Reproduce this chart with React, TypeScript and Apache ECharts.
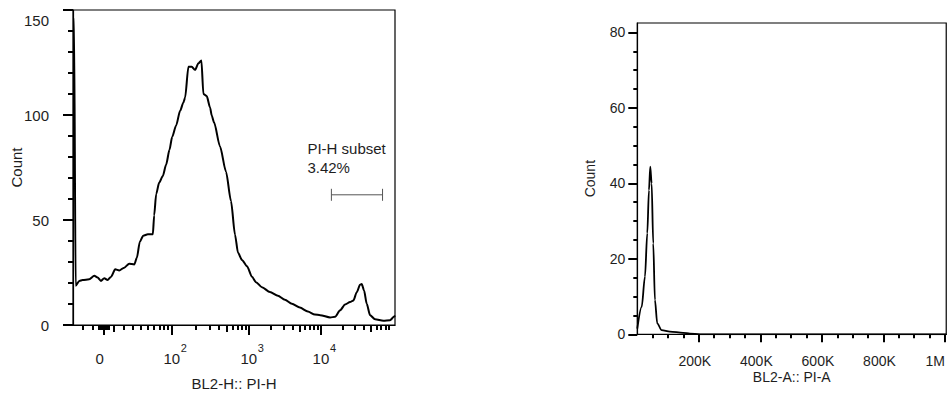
import React, { useEffect, useRef } from "react";
import * as echarts from "echarts";

// ---------------- Left panel: BL2-H :: PI-H (logicle display, channels 0-1000) ----------------
const leftChannels = [15, 18, 23, 34, 44, 64, 79, 89, 99, 109, 119, 129, 142, 154, 169, 184, 199, 207, 216, 226, 240, 255, 259, 265, 274, 285, 295, 305, 313, 325, 337, 347, 352, 362, 372, 382, 392, 401, 407, 417, 427, 432, 439, 457, 475, 490, 502, 511, 523, 538, 553, 565, 583, 607, 631, 652, 673, 697, 721, 742, 758, 788, 803, 818, 833, 848, 858, 868, 878, 883, 890, 898, 908, 923, 948, 968, 980, 983];
const leftCounts = [146, 146, 18.7, 21, 21.4, 21.8, 23.4, 22.6, 21, 22.3, 21.4, 22.9, 26.5, 26, 27.3, 29.2, 28.8, 32, 39.7, 42.5, 43.2, 43.2, 52.2, 62.3, 67.8, 70.9, 76.4, 83.4, 89.5, 95, 102, 106, 108.3, 123, 123, 121.5, 124.6, 126, 110, 109, 103.6, 99.8, 96.5, 85, 73, 59, 43, 34.4, 31, 28, 23, 20.4, 18, 15.7, 13.9, 12, 10.1, 8.3, 6.4, 5, 4.7, 3.6, 3.9, 7, 9.8, 10.9, 11.7, 15.6, 19.2, 19.5, 16.4, 10.1, 4.7, 2.7, 2, 2.3, 3.9, 4.5];

// logicle parameters of the display
const logicleT = 131072;
const logicleW = 0.5;
const logicleM = 4.67;
const logicleA = 0;
const leftXRange = [15, 983]; // display channels shown
const leftYRange = [0, 150];

const leftMajorTickValues = [0, 100, 1000, 10000];
const leftBaseLabels = ["0", "10", "10", "10"];
const leftSupLabels = ["", "2", "3", "4"];
const leftMediumTickValues = [10, 500, 5000, 50000];
const leftMinorTickValues = [
  -20, -10, -5, -4, -3, -2, -1, 1, 2, 3, 4, 5,
  20, 30, 40, 50, 60, 70, 80, 90,
  200, 300, 400, 600, 700, 800, 900,
  2000, 3000, 4000, 6000, 7000, 8000, 9000,
  20000, 30000, 40000, 60000, 70000, 80000, 90000,
];
const leftYMajor = [0, 50, 100, 150];
const leftYMinor = [10, 20, 30, 40, 60, 70, 80, 90, 110, 120, 130, 140];
const leftYLabelsMid = [50, 100];

const gateRange = [14000, 73000];
const gateLevel = 62;
const gateName = "PI-H subset";
const gatePercent = "3.42%";

// ---------------- Right panel: BL2-A :: PI-A (linear) ----------------
const rightValues = [0, 14300, 24900, 32400, 37900, 42100, 46600, 51800, 57300, 64800, 79000, 106000, 149000, 171000, 203000, 1004000];
const rightCounts = [1.5, 7.3, 15.3, 26.8, 38.2, 44.4, 40, 24.1, 9.1, 2.9, 1.1, 0.7, 0.4, 0.2, 0, 0];
const rightXRange = [0, 1004000];
const rightYRange = [0, 82.5];
const rightXMajor = [200000, 400000, 600000, 800000, 1000000];
const rightXMinor = [50000, 100000, 150000, 250000, 300000, 350000, 450000, 500000, 550000, 650000, 700000, 750000, 850000, 900000, 950000];
const rightXLabelValues = [200000, 400000, 600000, 800000];
const rightXLabels = ["200K", "400K", "600K", "800K"];
const rightXLastValue = 1000000;
const rightXLastLabel = "1M";
const rightYMajor = [0, 20, 40, 60, 80];
const rightYMinor = [5, 10, 15, 25, 30, 35, 45, 50, 55, 65, 70, 75];

function makeLogicle(T: number, W: number, M: number, A: number) {
  const w = W / (M + A);
  const x2 = A / (M + A);
  const x1 = x2 + w;
  const x0 = x2 + 2 * w;
  const b = (M + A) * Math.LN10;
  let lo = 1e-9;
  let hi = b;
  for (let i = 0; i < 200; i++) {
    const mid = (lo + hi) / 2;
    const g = 2 * (Math.log(mid) - Math.log(b)) + w * (b + mid);
    if (g > 0) hi = mid;
    else lo = mid;
  }
  const d = (lo + hi) / 2;
  const ca = Math.exp(x0 * (b + d));
  const mfa = Math.exp(b * x1) - ca / Math.exp(d * x1);
  const a = T / (Math.exp(b) - mfa - ca / Math.exp(d));
  const c = ca * a;
  const f = -mfa * a;
  const inverse = (y: number) => {
    const neg = y < x1;
    const s = neg ? 2 * x1 - y : y;
    const v = a * Math.exp(b * s) + f - c * Math.exp(-d * s);
    return neg ? -v : v;
  };
  return (v: number) => {
    let l = -1;
    let h = 2;
    for (let i = 0; i < 100; i++) {
      const m = (l + h) / 2;
      if (inverse(m) < v) l = m;
      else h = m;
    }
    return ((l + h) / 2) * 1000;
  };
}

const FONT = "'Liberation Sans', Arial, Helvetica, sans-serif";
const TXT = "#1e1e1e";
const TICK = { color: "#000", width: 2 };
const AXIS = { color: "#000", width: 1.2 };

function tickAxis(gridIndex: number, range: number[], values: number[], length: number, pos: string) {
  return {
    type: "value",
    gridIndex,
    min: range[0],
    max: range[1],
    position: pos,
    axisLine: { show: false, onZero: false },
    axisLabel: { show: false },
    splitLine: { show: false },
    axisTick: { show: true, customValues: values, length, lineStyle: TICK },
    silent: true,
  };
}

function labelAxis(gridIndex: number, range: number[], values: number[], pos: string, label: any) {
  return {
    type: "value",
    gridIndex,
    min: range[0],
    max: range[1],
    position: pos,
    axisLine: { show: false, onZero: false },
    axisTick: { show: false },
    splitLine: { show: false },
    axisLabel: { show: true, customValues: values, color: TXT, fontFamily: FONT, ...label },
    silent: true,
  };
}

export default function App() {
  const ref = useRef<HTMLDivElement>(null);
  useEffect(() => {
    document.body.style.margin = "0";
    if (!ref.current) return;
    const chart = echarts.init(ref.current, undefined, { renderer: "svg" });
    const toCh = makeLogicle(logicleT, logicleW, logicleM, logicleA);

    const majorCh = leftMajorTickValues.map(toCh);
    const mediumCh = leftMediumTickValues.map(toCh);
    const minorCh = leftMinorTickValues.map(toCh);
    const findIdx = (val: number) => majorCh.findIndex((c) => Math.abs(c - val) < 1e-6);
    const gateCh = gateRange.map(toCh);

    const leftData = leftChannels.map((c, i) => [c, leftCounts[i]]);
    const rightData = rightValues.map((v, i) => [v, rightCounts[i]]);

    const option: any = {
      animation: false,
      backgroundColor: "#fff",
      grid: [
        { left: 73, top: 10, width: 322, height: 321.7, show: true, borderColor: "#000", borderWidth: 1.2, backgroundColor: "transparent" },
        { left: 637.3, top: 23, width: 310, height: 311.3, show: true, borderColor: "#000", borderWidth: 1.2, backgroundColor: "transparent" },
      ],
      xAxis: [
        {
          type: "value", gridIndex: 0, min: leftXRange[0], max: leftXRange[1], position: "bottom",
          axisLine: { show: true, onZero: false, lineStyle: AXIS },
          axisTick: { show: true, customValues: majorCh, length: 10, lineStyle: TICK },
          axisLabel: {
            show: true, customValues: majorCh.slice(1), color: TXT, fontFamily: FONT, fontSize: 15, margin: 26,
            formatter: (v: number) => leftBaseLabels[findIdx(v)] ?? "",
          },
          splitLine: { show: false },
          name: "BL2-H:: PI-H", nameLocation: "middle", nameGap: 51, nameMoveOverlap: false,
          nameTextStyle: { color: TXT, fontFamily: FONT, fontSize: 15 },
        },
        labelAxis(0, leftXRange, [majorCh[0]], "bottom", { fontSize: 15, margin: 26, padding: [0, 8, 0, 0], formatter: () => leftBaseLabels[0] }),
        labelAxis(0, leftXRange, majorCh.slice(1), "bottom", {
          fontSize: 11, margin: 17, padding: [0, 0, 0, 24],
          formatter: (v: number) => leftSupLabels[findIdx(v)] ?? "",
        }),
        tickAxis(0, leftXRange, mediumCh, 7, "bottom"),
        tickAxis(0, leftXRange, minorCh, 5, "bottom"),
        // 5: right panel main x axis
        {
          type: "value", gridIndex: 1, min: rightXRange[0], max: rightXRange[1], position: "bottom",
          axisLine: { show: true, onZero: false, lineStyle: AXIS },
          axisTick: { show: true, customValues: rightXMajor, length: 8, lineStyle: TICK },
          axisLabel: {
            show: true, customValues: rightXLabelValues, color: TXT, fontFamily: FONT, fontSize: 14, margin: 20,
            padding: [0, 8, 0, 0],
            formatter: (v: number) => rightXLabels[rightXLabelValues.indexOf(v)] ?? "",
          },
          splitLine: { show: false },
          name: "BL2-A:: PI-A", nameLocation: "middle", nameGap: 36, nameMoveOverlap: false,
          nameTextStyle: { color: TXT, fontFamily: FONT, fontSize: 14 },
        },
        labelAxis(1, rightXRange, [rightXLastValue], "bottom", { fontSize: 14, margin: 20, align: "right", formatter: () => rightXLastLabel }),
        tickAxis(1, rightXRange, rightXMinor, 4, "bottom"),
      ],
      yAxis: [
        {
          type: "value", gridIndex: 0, min: leftYRange[0], max: leftYRange[1], position: "left",
          axisLine: { show: true, onZero: false, lineStyle: AXIS },
          axisTick: { show: true, customValues: leftYMajor, length: 10, lineStyle: TICK },
          axisLabel: { show: true, customValues: leftYLabelsMid, color: TXT, fontFamily: FONT, fontSize: 15, margin: 24 },
          splitLine: { show: false },
          name: "Count", nameLocation: "middle", nameGap: 49, nameRotate: 90, nameMoveOverlap: false,
          nameTextStyle: { color: TXT, fontFamily: FONT, fontSize: 15 },
        },
        labelAxis(0, leftYRange, [leftYRange[1]], "left", { fontSize: 15, margin: 24, verticalAlign: "top", padding: [3, 0, 0, 0] }),
        labelAxis(0, leftYRange, [leftYRange[0]], "left", { fontSize: 15, margin: 24, verticalAlign: "middle", padding: [0, 0, 11, 0] }),
        tickAxis(0, leftYRange, leftYMinor, 5, "left"),
        // 4: right panel main y axis
        {
          type: "value", gridIndex: 1, min: rightYRange[0], max: rightYRange[1], position: "left",
          axisLine: { show: true, onZero: false, lineStyle: AXIS },
          axisTick: { show: true, customValues: rightYMajor, length: 9, lineStyle: TICK },
          axisLabel: { show: true, customValues: rightYMajor, color: TXT, fontFamily: FONT, fontSize: 14, margin: 12 },
          splitLine: { show: false },
          name: "Count", nameLocation: "middle", nameGap: 40, nameRotate: 90, nameMoveOverlap: false,
          nameTextStyle: { color: TXT, fontFamily: FONT, fontSize: 14 },
        },
        tickAxis(1, rightYRange, rightYMinor, 4, "left"),
      ],
      series: [
        {
          type: "line", xAxisIndex: 0, yAxisIndex: 0, data: leftData, showSymbol: false,
          smooth: 0.25, smoothMonotone: "x",
          lineStyle: { color: "#000", width: 2 }, silent: true,
        },
        {
          type: "custom", xAxisIndex: 0, yAxisIndex: 0, clip: false, silent: true,
          data: [[gateCh[0], gateCh[1], gateLevel]],
          renderItem: (params: any, api: any) => {
            const p1 = api.coord([api.value(0), api.value(2)]);
            const p2 = api.coord([api.value(1), api.value(2)]);
            const ls = { stroke: "#555", lineWidth: 1 };
            return {
              type: "group",
              children: [
                { type: "line", shape: { x1: p1[0], y1: p1[1], x2: p2[0], y2: p2[1] }, style: ls },
                { type: "line", shape: { x1: p1[0], y1: p1[1] - 6, x2: p1[0], y2: p1[1] + 6 }, style: ls },
                { type: "line", shape: { x1: p2[0], y1: p2[1] - 6, x2: p2[0], y2: p2[1] + 6 }, style: ls },
                { type: "text", x: p1[0] - 24, y: p1[1] - 46, style: { text: gateName, fill: TXT, fontSize: 15, fontFamily: FONT, align: "left", verticalAlign: "middle" } },
                { type: "text", x: p1[0] - 24, y: p1[1] - 27, style: { text: gatePercent, fill: TXT, fontSize: 15, fontFamily: FONT, align: "left", verticalAlign: "middle" } },
              ],
            };
          },
        },
        {
          type: "line", xAxisIndex: 5, yAxisIndex: 4, data: rightData, showSymbol: false,
          smooth: 0.3, smoothMonotone: "x",
          lineStyle: { color: "#000", width: 1.8 }, silent: true,
        },
      ],
    };
    chart.setOption(option);
    return () => chart.dispose();
  }, []);
  return <div ref={ref} style={{ width: 948, height: 396 }} />;
}
